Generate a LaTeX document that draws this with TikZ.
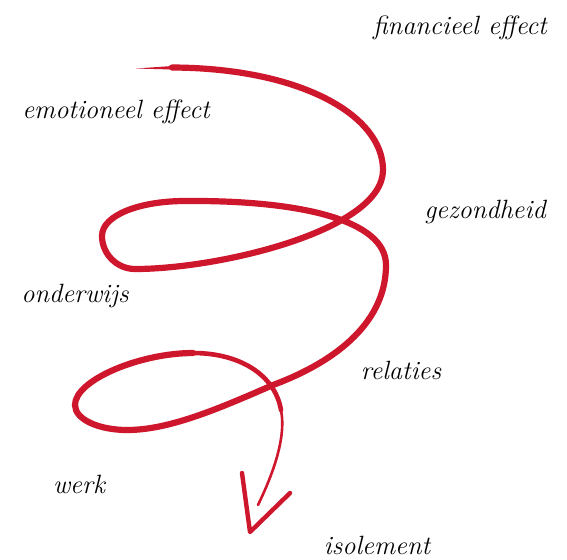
\documentclass[tikz,border=0pt]{standalone}
\usetikzlibrary{calc}
\definecolor{spiralred}{RGB}{206,22,44}
\begin{document}
\begin{tikzpicture}[x=0.5pt,y=-0.5pt,
  lbl/.style={font=\fontsize{13.2}{15}\selectfont\itshape, text=black, inner sep=0pt},
  thick spiral/.style={draw=spiralred, line width=3.1pt, line cap=round, line join=round},
  thin spiral/.style={draw=spiralred, line width=1.3pt, line cap=round, line join=round}]
\useasboundingbox (0,0) rectangle (567,559);
\fill[white] (0,0) rectangle (567,559);
% labels
\node[lbl] (fin) at (460,28) {financieel effect};
\node[lbl] (emo) at (116,112) {emotioneel effect};
\node[lbl] (gez) at (485,212) {gezondheid};
\node[lbl] (ond) at (75,296) {onderwijs};
\node[lbl] (rel) at (401,370) {relaties};
\node[lbl] (wrk) at (79,484) {werk};
\node[lbl] (iso) at (377,545) {isolement};
% tapered start
\fill[spiralred] (136,68.5) -- (175,65.8) -- (175,69.6) -- cycle;
% main thick spiral
\coordinate (s0) at (172,67.5);
\coordinate (r1) at (383,170);
\coordinate (b1) at (135,269);
\coordinate (l1) at (102,236);
\coordinate (t1) at (185,201);
\coordinate (r2) at (386,265);
\coordinate (c2) at (273,385);
\coordinate (b2) at (127,430);
\coordinate (l2) at (75,405);
\coordinate (t2) at (193,353);
\coordinate (m3) at (281,410);
\coordinate (e3) at (258,505);
\draw[thick spiral] (s0) .. controls (300,68) and (383,115) .. (r1)
  .. controls (383,230) and (220,269) .. (b1)
  .. controls (117,269) and (102,254) .. (l1)
  .. controls (102,215) and (140,201) .. (t1)
  .. controls (300,200) and (386,220) .. (r2)
  .. controls (386,320) and (340,360) .. (c2)
  .. controls (220,408) and (170,430) .. (b2)
  .. controls (100,430) and (75,420) .. (l2)
  .. controls (75,380) and (140,353) .. (t2);
% tail, tapering
\draw[draw=spiralred, line width=2.3pt, line cap=round] (t2) .. controls (240,353) and (275,375) .. (m3);
\draw[thin spiral] (m3) .. controls (287,440) and (270,480) .. (e3);
% arrowhead
\draw[draw=spiralred, line width=2.2pt, line cap=round, line join=round] (242,473) -- (250,532) -- (290,493);
\end{tikzpicture}
\end{document}
